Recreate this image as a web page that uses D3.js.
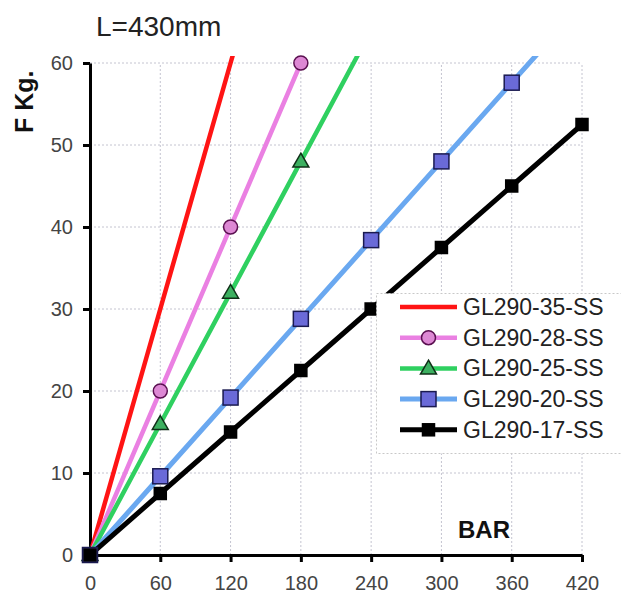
<!DOCTYPE html>
<html>
<head>
<meta charset="utf-8">
<script src="https://cdn.jsdelivr.net/npm/d3@7"></script>
<style>
  body { margin: 0; background: #fff; }
  text { font-family: Arial, "Liberation Sans", sans-serif; }
</style>
</head>
<body>
<div id="chart"></div>
<script>
// data
var bar = [0, 60, 120, 180, 240, 300, 360, 420];
var gl35 = [0, 30, 60, 90];
var gl28 = [0, 20, 40, 60];
var gl25 = [0, 16, 32, 48, 64];
var gl20 = [0, 9.6, 19.2, 28.8, 38.4, 48, 57.6, 67.2];
var gl17 = [0, 7.5, 15, 22.5, 30, 37.5, 45, 52.5];
var yTicks = [0, 10, 20, 30, 40, 50, 60];
var names = ['GL290-35-SS', 'GL290-28-SS', 'GL290-25-SS', 'GL290-20-SS', 'GL290-17-SS'];

var series = [
  { name: names[0], values: gl35, color: '#ff1414', width: 4.5, marker: 'none' },
  { name: names[1], values: gl28, color: '#ea80e2', width: 4.5, marker: 'circle', fill: '#dd88d4', stroke: '#5a1050' },
  { name: names[2], values: gl25, color: '#2fd060', width: 4.5, marker: 'triangle', fill: '#3cb060', stroke: '#103018' },
  { name: names[3], values: gl20, color: '#6aa8f0', width: 5, marker: 'square', fill: '#6a6ad8', stroke: '#1a1a50', size: 15 },
  { name: names[4], values: gl17, color: '#000', width: 5, marker: 'square', fill: '#000', stroke: '#000', size: 12 }
];

var width = 621, height = 603;
var svg = d3.select('#chart').append('svg')
  .attr('width', width)
  .attr('height', height);

var x = d3.scaleLinear().domain([0, 420]).range([90, 582]);
var y = d3.scaleLinear().domain([0, 60]).range([555, 63]);

// grid
svg.append('g').selectAll('line')
  .data(bar.slice(1))
  .enter().append('line')
  .attr('x1', function(d) { return x(d); })
  .attr('x2', function(d) { return x(d); })
  .attr('y1', y(0))
  .attr('y2', y(60))
  .attr('stroke', '#c4c4d0')
  .attr('stroke-dasharray', '2,2');

svg.append('g').selectAll('line')
  .data(yTicks.slice(1))
  .enter().append('line')
  .attr('x1', x(0))
  .attr('x2', x(420))
  .attr('y1', function(d) { return y(d); })
  .attr('y2', function(d) { return y(d); })
  .attr('stroke', '#c4c4d0')
  .attr('stroke-dasharray', '2,2');

// axes
var xAxis = svg.append('g')
  .attr('transform', 'translate(0,' + y(0) + ')')
  .call(d3.axisBottom(x).tickValues(bar).tickSize(7).tickPadding(14).tickSizeOuter(0));
var yAxis = svg.append('g')
  .attr('transform', 'translate(' + x(0) + ',0)')
  .call(d3.axisLeft(y).tickValues(yTicks).tickSize(7).tickPadding(10).tickSizeOuter(0));

[xAxis, yAxis].forEach(function(a) {
  a.select('.domain').attr('stroke', '#000').attr('stroke-width', 3);
  a.selectAll('.tick line').attr('stroke', '#000').attr('stroke-width', 3);
  a.selectAll('.tick text')
    .attr('font-size', '20px')
    .attr('fill', '#444')
    .attr('font-family', 'Arial, "Liberation Sans", sans-serif');
});

// clip so lines stop just above the top of the plot
svg.append('clipPath').attr('id', 'clip')
  .append('rect')
  .attr('x', x(0))
  .attr('y', 56)
  .attr('width', x(420) - x(0) + 4)
  .attr('height', y(0) - 56 + 10);

var plot = svg.append('g').attr('clip-path', 'url(#clip)');

var line = d3.line()
  .x(function(d, i) { return x(bar[i]); })
  .y(function(d) { return y(d); });

function drawMarker(g, s, cx, cy) {
  if (s.marker == 'circle') {
    g.append('circle')
      .attr('cx', cx).attr('cy', cy).attr('r', 7)
      .attr('fill', s.fill).attr('stroke', s.stroke).attr('stroke-width', 1.5);
  } else if (s.marker == 'triangle') {
    var sym = d3.symbol().type(d3.symbolTriangle).size(110);
    g.append('path')
      .attr('d', sym())
      .attr('transform', 'translate(' + cx + ',' + (cy + 1) + ')')
      .attr('fill', s.fill).attr('stroke', s.stroke).attr('stroke-width', 1.5);
  } else if (s.marker == 'square') {
    g.append('rect')
      .attr('x', cx - s.size / 2).attr('y', cy - s.size / 2)
      .attr('width', s.size).attr('height', s.size)
      .attr('fill', s.fill).attr('stroke', s.stroke).attr('stroke-width', 1.5);
  }
}

series.forEach(function(s) {
  plot.append('path')
    .attr('d', line(s.values))
    .attr('fill', 'none')
    .attr('stroke', s.color)
    .attr('stroke-width', s.width)
    .attr('stroke-linejoin', 'round');
  var mg = svg.append('g');
  s.values.forEach(function(v, i) {
    if (v <= 60) drawMarker(mg, s, x(bar[i]), y(v));
  });
});

// titles
svg.append('text')
  .attr('x', 96).attr('y', 36)
  .attr('font-size', '28px')
  .attr('fill', '#222')
  .text('L=430mm');

svg.append('text')
  .attr('transform', 'translate(33,133) rotate(-90)')
  .attr('font-size', '25px')
  .attr('font-weight', 'bold')
  .attr('fill', '#111')
  .text('F Kg.');

svg.append('text')
  .attr('x', 484).attr('y', 538)
  .attr('text-anchor', 'middle')
  .attr('font-size', '24px')
  .attr('font-weight', 'bold')
  .attr('fill', '#111')
  .text('BAR');

// legend
var legend = svg.append('g');
legend.append('rect')
  .attr('x', 376.5).attr('y', 293.5)
  .attr('width', 250).attr('height', 160)
  .attr('fill', '#fff')
  .attr('stroke', '#c8c8c8')
  .attr('stroke-dasharray', '2,2');

series.forEach(function(s, i) {
  var ly = 307 + i * 30.7;
  legend.append('line')
    .attr('x1', 400).attr('x2', 457)
    .attr('y1', ly).attr('y2', ly)
    .attr('stroke', s.color)
    .attr('stroke-width', s.width);
  drawMarker(legend, s, 428.5, ly);
  legend.append('text')
    .attr('x', 463).attr('y', ly + 8)
    .attr('font-size', '23px')
    .attr('fill', '#222')
    .text(s.name);
});
</script>
</body>
</html>
